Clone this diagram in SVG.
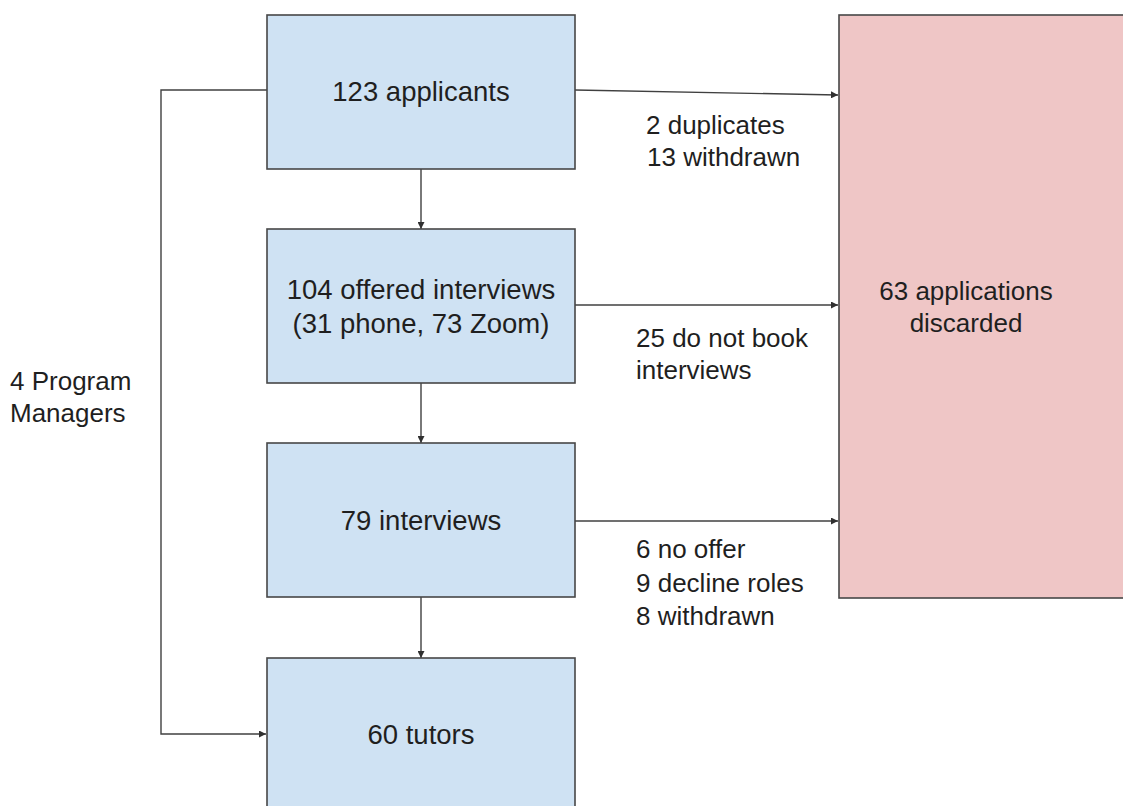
<svg xmlns="http://www.w3.org/2000/svg" width="1123" height="806" viewBox="0 0 1123 806">
<style>
.box{fill:#cfe2f3;stroke:#474747;stroke-width:1.6}
.red{fill:#efc6c6;stroke:#474747;stroke-width:1.6}
.bt{font-family:"Liberation Sans",Arial,sans-serif;font-size:27.5px;fill:#1f1f1f;text-anchor:middle}
.lt{font-family:"Liberation Sans",Arial,sans-serif;font-size:26px;fill:#1f1f1f}
.c{fill:none;stroke:#404040;stroke-width:1.4}
</style>
<defs>
<marker id="ah" viewBox="0 0 10 10" refX="10" refY="5" markerWidth="7" markerHeight="7" markerUnits="userSpaceOnUse" orient="auto">
<path d="M0,0 L10,5 L0,10 z" fill="#303030"/>
</marker>
</defs>
<rect width="1123" height="806" fill="#ffffff"/>
<g id="connectors">
<line class="c" x1="575" y1="90" x2="838" y2="95" marker-end="url(#ah)"/>
<line class="c" x1="575" y1="305" x2="838" y2="305" marker-end="url(#ah)"/>
<line class="c" x1="575" y1="521" x2="838" y2="521" marker-end="url(#ah)"/>
<line class="c" x1="421" y1="169" x2="421" y2="229" marker-end="url(#ah)"/>
<line class="c" x1="421" y1="383" x2="421" y2="443" marker-end="url(#ah)"/>
<line class="c" x1="421" y1="597" x2="421" y2="658" marker-end="url(#ah)"/>
<polyline class="c" points="267,90 161,90 161,734 266,734" marker-end="url(#ah)"/>
</g>
<g id="n-discarded">
<rect class="red" x="839" y="15" width="300" height="583"/>
<text class="lt" text-anchor="middle" x="966" y="300">63 applications</text>
<text class="lt" text-anchor="middle" x="966" y="332">discarded</text>
</g>
<g id="n-applicants">
<rect class="box" x="267" y="15" width="308" height="154"/>
<text class="bt" x="421" y="101">123 applicants</text>
</g>
<g id="n-offered">
<rect class="box" x="267" y="229" width="308" height="154"/>
<text class="bt" x="421" y="299">104 offered interviews</text>
<text class="bt" x="421" y="333">(31 phone, 73 Zoom)</text>
</g>
<g id="n-interviews">
<rect class="box" x="267" y="443" width="308" height="154"/>
<text class="bt" x="421" y="530">79 interviews</text>
</g>
<g id="n-tutors">
<rect class="box" x="267" y="658" width="308" height="160"/>
<text class="bt" x="421" y="744">60 tutors</text>
</g>
<g id="labels">
<text class="lt" x="646" y="134">2 duplicates</text>
<text class="lt" x="647" y="166">13 withdrawn</text>
<text class="lt" x="636" y="347">25 do not book</text>
<text class="lt" x="636" y="379">interviews</text>
<text class="lt" x="636" y="558">6 no offer</text>
<text class="lt" x="636" y="592">9 decline roles</text>
<text class="lt" x="636" y="625">8 withdrawn</text>
<text class="lt" x="10" y="390">4 Program</text>
<text class="lt" x="10" y="422">Managers</text>
</g>
</svg>
